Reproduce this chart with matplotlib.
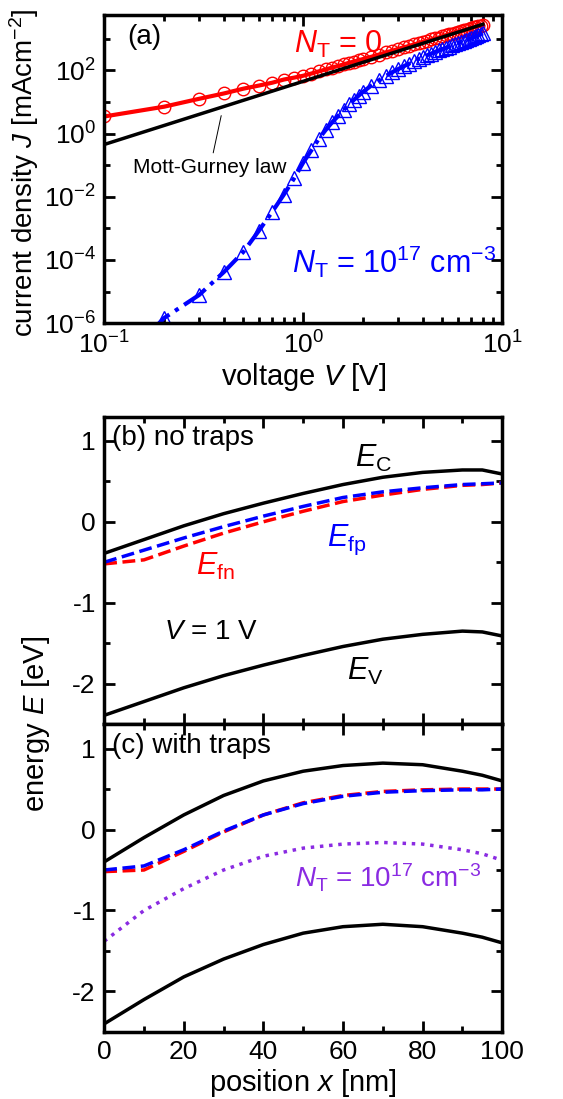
import numpy as np
import matplotlib.pyplot as plt

plt.rcParams['font.family'] = ['Liberation Sans', 'DejaVu Sans']
plt.rcParams['mathtext.fontset'] = 'custom'
plt.rcParams['mathtext.rm'] = 'Liberation Sans'
plt.rcParams['mathtext.it'] = 'Liberation Sans:italic'
plt.rcParams['axes.unicode_minus'] = False

# ---- panel (a) data: voltage [V], log10 J [mA/cm2]
V = [0.1, 0.2, 0.3, 0.4, 0.5, 0.6, 0.7, 0.8, 0.9, 1.0, 1.1, 1.2, 1.3, 1.4, 1.5, 1.6, 1.7, 1.8, 1.9, 2.0,
     2.2, 2.4, 2.6, 2.8, 3.0, 3.2, 3.4, 3.6, 3.8, 4.0, 4.2, 4.4, 4.6, 4.8, 5.0, 5.2, 5.4, 5.6, 5.8, 6.0,
     6.2, 6.4, 6.6, 6.8, 7.0, 7.2, 7.4, 7.6, 7.8, 8.0]
logJ_notrap = [0.54, 0.85, 1.1, 1.27, 1.42, 1.52, 1.61, 1.71, 1.77, 1.83, 1.9, 1.97, 2.03, 2.09, 2.14, 2.19, 2.24, 2.28, 2.32, 2.36,
               2.43, 2.50, 2.57, 2.62, 2.68, 2.73, 2.77, 2.82, 2.86, 2.90, 2.94, 2.98, 3.01, 3.04, 3.08, 3.11, 3.14, 3.16, 3.19, 3.22,
               3.24, 3.27, 3.29, 3.31, 3.34, 3.36, 3.38, 3.40, 3.42, 3.44]
V_trap = [0.17] + V[1:]
logJ_trap = [-6.3, -5.84, -5.11, -4.38, -3.75, -3.07, -2.47, -1.93, -1.42, -0.92, -0.53, -0.16, 0.12, 0.36, 0.56, 0.75, 0.92, 1.07, 1.2, 1.32,
             1.52, 1.68, 1.82, 1.94, 2.04, 2.13, 2.21, 2.29, 2.36, 2.42, 2.48, 2.53, 2.58, 2.63, 2.67, 2.71, 2.75, 2.79, 2.83, 2.86,
             2.90, 2.93, 2.96, 2.99, 3.02, 3.05, 3.08, 3.11, 3.14, 3.17]
V_mg = [0.1, 8.0]
J_mg = [0.45, 2880]

# ---- panels (b), (c): position [nm], energy [eV]
x = [0, 10, 20, 30, 40, 50, 60, 70, 80, 90, 95, 100]
Ec_b = [-0.39, -0.22, -0.05, 0.1, 0.23, 0.35, 0.46, 0.55, 0.61, 0.64, 0.64, 0.59]
Efp_b = [-0.5, -0.35, -0.2, -0.06, 0.07, 0.19, 0.3, 0.37, 0.42, 0.46, 0.47, 0.48]
Efn_b = [-0.52, -0.47, -0.3, -0.14, 0.0, 0.13, 0.25, 0.33, 0.4, 0.45, 0.46, 0.48]
Ev_b = [-2.39, -2.22, -2.05, -1.9, -1.77, -1.65, -1.54, -1.45, -1.39, -1.35, -1.36, -1.41]
Ec_c = [-0.4, -0.1, 0.18, 0.42, 0.6, 0.72, 0.79, 0.82, 0.8, 0.72, 0.67, 0.6]
Efp_c = [-0.5, -0.45, -0.25, -0.02, 0.18, 0.32, 0.41, 0.46, 0.48, 0.49, 0.49, 0.5]
Efn_c = [-0.52, -0.5, -0.27, -0.03, 0.18, 0.33, 0.42, 0.47, 0.49, 0.5, 0.5, 0.5]
Et_c = [-1.38, -1.0, -0.73, -0.5, -0.33, -0.23, -0.18, -0.16, -0.18, -0.25, -0.3, -0.38]
Ev_c = [-2.4, -2.1, -1.82, -1.6, -1.42, -1.28, -1.2, -1.17, -1.2, -1.28, -1.33, -1.4]

fig = plt.figure(figsize=(5.63, 10.99), dpi=100)
axa = fig.add_axes([0.185, 0.706, 0.707, 0.280])
axb = fig.add_axes([0.185, 0.341, 0.707, 0.280])
axc = fig.add_axes([0.185, 0.061, 0.707, 0.280], sharex=axb)

def style(ax):
    for s in ax.spines.values():
        s.set_linewidth(2.5)
    ax.tick_params(which='both', direction='in', top=True, right=True, width=2, labelsize=19)
    ax.tick_params(which='major', length=8, pad=6)
    ax.tick_params(which='minor', length=4)

# panel (a)
axa.plot(V, 10 ** np.array(logJ_notrap), '-', color='red', lw=3, marker='o', ms=9, mfc='none', mec='red', mew=1)
axa.plot(V_mg, J_mg, '-', color='black', lw=2.5)
axa.plot(V_trap, 10 ** np.array(logJ_trap), '-.', color='blue', lw=3)
axa.plot(V_trap[1:], 10 ** np.array(logJ_trap[1:]), ls='none', marker='^', ms=10, mfc='none', mec='blue', mew=1)
axa.set_xscale('log')
axa.set_yscale('log')
axa.set_xlim(0.1, 10)
axa.set_ylim(1e-6, 5500)
axa.set_yticks([1e-6, 1e-4, 1e-2, 1e0, 1e2])
axa.set_yticks([1e-5, 1e-3, 1e-1, 1e1, 1e3], minor=True)
axa.yaxis.set_minor_formatter(plt.NullFormatter())
style(axa)
axa.set_xlabel('voltage $V$ [V]', fontsize=21, labelpad=2)
axa.set_ylabel('current density $J$ [mAcm$^{-2}$]', fontsize=20, labelpad=2, y=0.49)
axa.text(0.13, 700, '(a)', fontsize=20)
axa.text(0.9, 350, r'$N_\mathrm{T}$ = 0', color='red', fontsize=22)
axa.text(0.88, 4e-5, r'$N_\mathrm{T}$ = 10$^{17}$ cm$^{-3}$', color='blue', fontsize=22)
axa.annotate('Mott-Gurney law', xy=(0.39, 4.5), xytext=(0.14, 0.055), fontsize=15,
             arrowprops=dict(arrowstyle='-', color='black', lw=0.7))

# panels (b), (c)
for ax, Ec, Efp, Efn, Ev in [(axb, Ec_b, Efp_b, Efn_b, Ev_b), (axc, Ec_c, Efp_c, Efn_c, Ev_c)]:
    ax.plot(x, Ec, color='black', lw=2.5)
    ax.plot(x, Efn, '--', color='red', lw=2.5)
    ax.plot(x, Efp, '--', color='blue', lw=2.5)
    ax.plot(x, Ev, color='black', lw=2.5)
    ax.set_xlim(0, 100)
    ax.set_ylim(-2.5, 1.3)
    ax.set_yticks([-2, -1, 0, 1])
    ax.set_yticks([-2.5, -1.5, -0.5, 0.5], minor=True)
    ax.set_xticks([0, 20, 40, 60, 80, 100])
    ax.set_xticks([10, 30, 50, 70, 90], minor=True)
    style(ax)
axc.plot(x, Et_c, ':', color='#8a2be2', lw=2.5)
plt.setp(axb.get_xticklabels(), visible=False)

axb.text(2, 0.95, '(b) no traps', fontsize=20)
axb.text(63, 0.68, r'$E_\mathrm{C}$', fontsize=22)
axb.text(56, -0.3, r'$E_\mathrm{fp}$', fontsize=22, color='blue')
axb.text(23, -0.65, r'$E_\mathrm{fn}$', fontsize=22, color='red')
axb.text(15, -1.45, '$V$ = 1 V', fontsize=20)
axb.text(61, -1.95, r'$E_\mathrm{V}$', fontsize=22)
axc.text(2, 0.95, '(c) with traps', fontsize=20)
axc.text(48, -0.72, r'$N_\mathrm{T}$ = 10$^{17}$ cm$^{-3}$', fontsize=20, color='#8a2be2')
axc.set_xlabel('position $x$ [nm]', fontsize=21, labelpad=2)
fig.text(0.035, 0.341, 'energy $E$ [eV]', rotation=90, fontsize=21, va='center')

fig.savefig('out.png', dpi=100)
